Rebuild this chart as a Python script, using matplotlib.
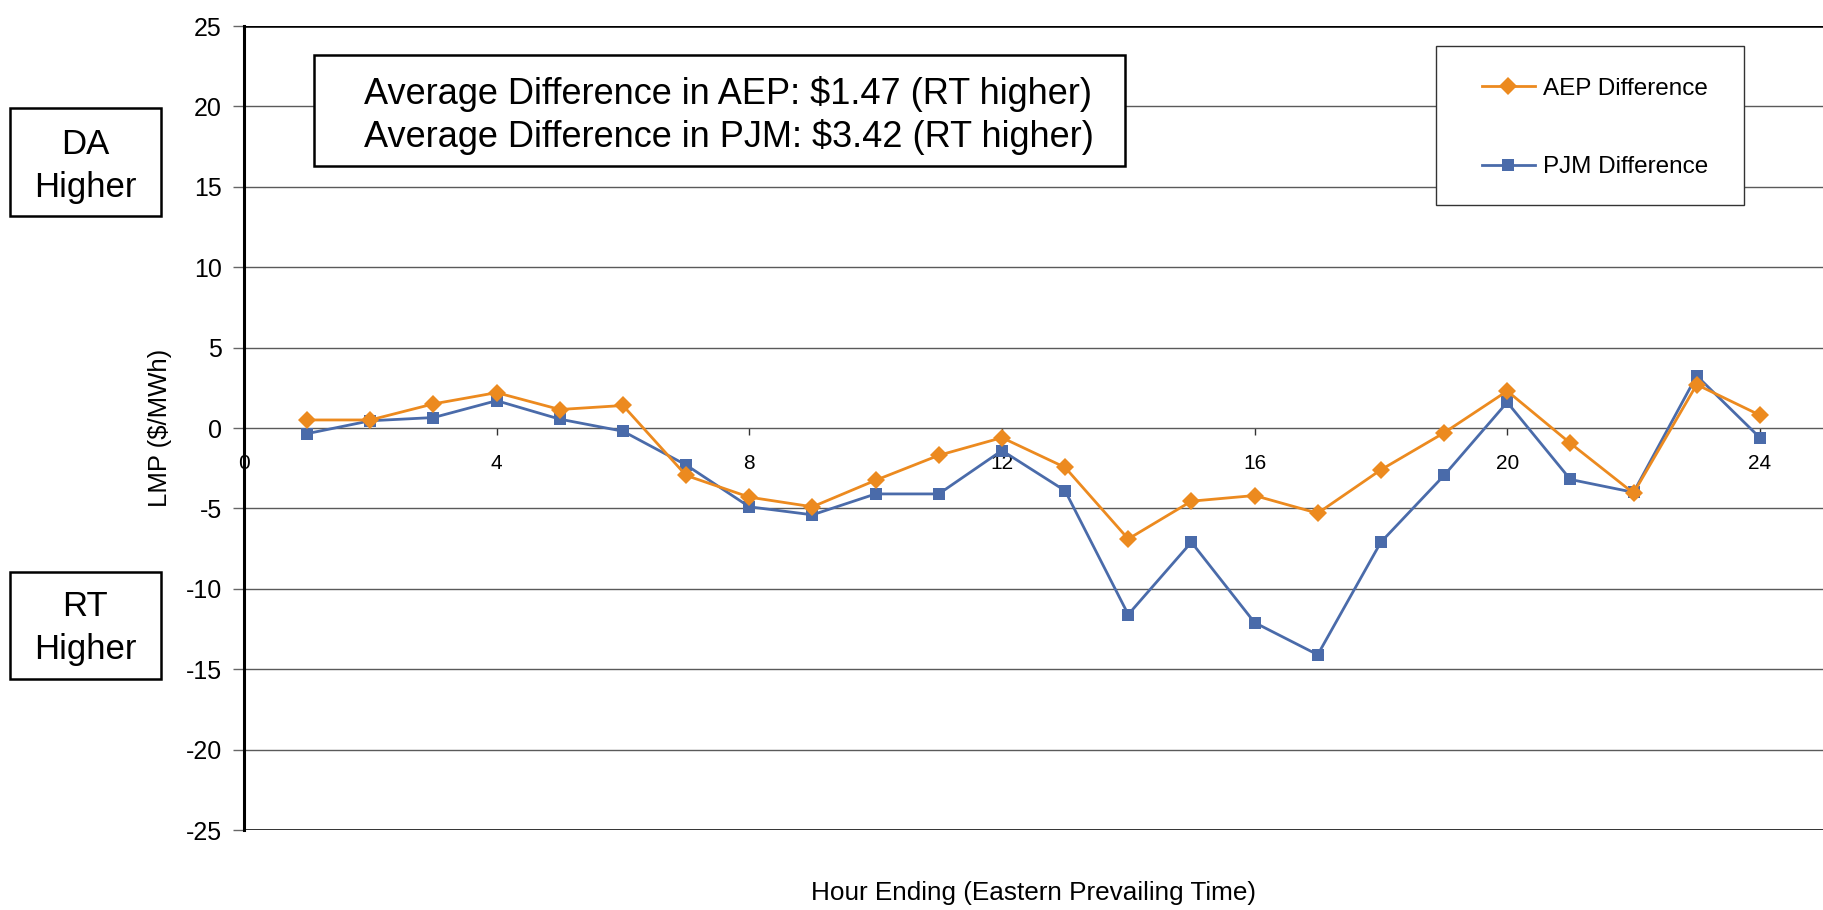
import matplotlib
matplotlib.use("Agg")
import matplotlib.pyplot as plt
from matplotlib.patches import Rectangle

# hourly DA - RT differences ($/MWh)
hours = list(range(1, 25))
aep_diff = [0.5, 0.5, 1.5, 2.2, 1.15, 1.4, -2.95, -4.3, -4.9, -3.25, -1.7, -0.6,
            -2.45, -6.9, -4.55, -4.2, -5.3, -2.6, -0.3, 2.3, -0.95, -4.05, 2.7, 0.8]
pjm_diff = [-0.35, 0.45, 0.65, 1.7, 0.55, -0.2, -2.3, -4.9, -5.4, -4.1, -4.1, -1.4,
            -3.9, -11.6, -7.1, -12.1, -14.1, -7.1, -2.95, 1.6, -3.2, -4.0, 3.25, -0.6]
x_ticks = [0, 4, 8, 12, 16, 20, 24]
y_ticks = [-25, -20, -15, -10, -5, 0, 5, 10, 15, 20, 25]
avg_lines = ["Average Difference in AEP: $1.47 (RT higher)",
             "Average Difference in PJM: $3.42 (RT higher)"]

plt.rcParams["font.family"] = ["Liberation Sans", "DejaVu Sans"]
plt.rcParams["axes.unicode_minus"] = False

W, H = 1823, 910
fig = plt.figure(figsize=(W / 100, H / 100), dpi=100)
ax = fig.add_axes([244 / W, 1 - 830 / H, (W - 244) / W, (830 - 26) / H])

ax.plot(hours, aep_diff, color="#EC8A1F", lw=2.0, marker="D", ms=9.5, mew=0,
        label="AEP Difference", zorder=4)
ax.plot(hours, pjm_diff, color="#4A6BAA", lw=2.0, marker="s", ms=9, mew=0,
        label="PJM Difference", zorder=3)

ax.set_xlim(0, 25)
ax.set_ylim(-25, 25)
ax.set_xticks(x_ticks)
ax.set_yticks(y_ticks)
ax.grid(True, axis="y", color="#5a5a5a", lw=1.0)

ax.spines["right"].set_visible(False)
ax.spines["top"].set_visible(False)
ax.spines["left"].set_linewidth(2.2)
ax.spines["bottom"].set_position(("data", 0))
ax.spines["bottom"].set_visible(False)
ax.axhline(25, color="black", lw=1.8, zorder=2)
ax.axhline(-25, color="black", lw=1.8, zorder=2)

ax.tick_params(axis="y", direction="out", length=8, width=1, color="#666666",
               pad=8, labelsize=18)
ax.tick_params(axis="x", direction="out", length=5, width=1, color="#333333",
               pad=14, labelsize=15)

ax.set_ylabel("LMP ($/MWh)", fontsize=18.5, labelpad=10)
fig.text((244 + W) / 2 / W, 1 - 893 / H, "Hour Ending (Eastern Prevailing Time)",
         fontsize=18.8, ha="center", va="center")

# legend: frame drawn separately so its padding can match
fig.patches.append(Rectangle((1436 / W, 1 - 205 / H), 308 / W, 159 / H,
                             transform=fig.transFigure, fill=True, fc="white",
                             ec="#333333", lw=1.0, zorder=1))
handles, labels = ax.get_legend_handles_labels()
leg = fig.legend(handles, labels, loc="center left",
                 bbox_to_anchor=(1482 / W, 1 - 128 / H),
                 bbox_transform=fig.transFigure, prop={"size": 17.5},
                 frameon=False, borderpad=0, labelspacing=2.32,
                 handlelength=2.18, handletextpad=0.33, borderaxespad=0)
leg.set_zorder(10)

# annotation box with averages
fig.patches.append(Rectangle((314 / W, 1 - 166 / H), 811 / W, 111 / H,
                             transform=fig.transFigure, fill=True, fc="white",
                             ec="black", lw=1.8, zorder=5))
fig.text(364 / W, 1 - 94 / H, avg_lines[0], fontsize=26,
         ha="left", va="center", zorder=6)
fig.text(364 / W, 1 - 137 / H, avg_lines[1], fontsize=26,
         ha="left", va="center", zorder=6)

# side labels
for top, bot, dy, lines in [(108, 216, 37, ("DA", "Higher")),
                            (572, 679, 34, ("RT", "Higher"))]:
    fig.patches.append(Rectangle((10 / W, 1 - bot / H), 151 / W, (bot - top) / H,
                                 transform=fig.transFigure, fill=False,
                                 ec="black", lw=1.8))
    fig.text(85 / W, 1 - (top + dy) / H, lines[0], fontsize=25,
             ha="center", va="center")
    fig.text(85 / W, 1 - (top + dy + 43) / H, lines[1], fontsize=25,
             ha="center", va="center")

fig.savefig("out.png", dpi=100)
